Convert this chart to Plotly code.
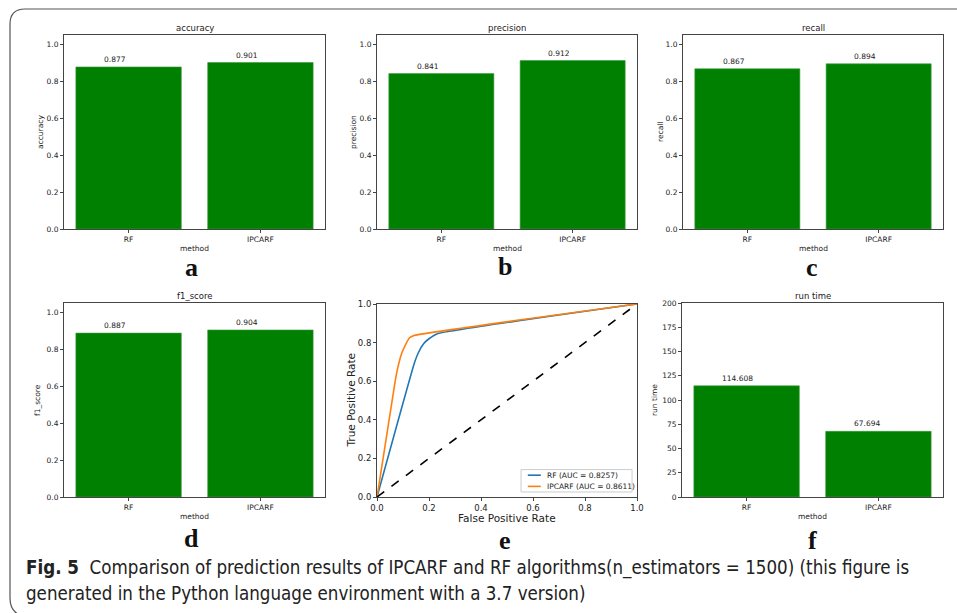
import plotly.graph_objects as go

# ---------------- data ----------------
methods = ["RF", "IPCARF"]
accuracy = [0.877, 0.901]
precision = [0.841, 0.912]
recall = [0.867, 0.894]
f1_score = [0.887, 0.904]
run_time = [114.608, 67.694]

rf_fpr = [0.0, 0.145, 0.16, 0.18, 0.20, 0.23, 1.0]
rf_tpr = [0.0, 0.70, 0.75, 0.795, 0.82, 0.845, 1.0]
ip_fpr = [0.0, 0.02, 0.07, 0.08, 0.095, 0.11, 0.125, 0.14, 1.0]
ip_tpr = [0.0, 0.17, 0.60, 0.67, 0.745, 0.79, 0.825, 0.836, 1.0]
diag = [0.0, 1.0]
rf_auc = "0.8257"
ip_auc = "0.8611"

caption_bold = "Fig. 5"
caption_1 = "Comparison of prediction results of IPCARF and RF algorithms(n_estimators = 1500) (this figure is"
caption_2 = "generated in the Python language environment with a 3.7 version)"

W, H = 957, 613
GREEN = "#008000"
TXT = "#222222"
AX = "#444444"
BLUE = "#1f77b4"
ORANGE = "#ff7f0e"
FONT = "DejaVu Sans"
TICK = 7.5

# pixel boxes: (x0, x1, y0_top, y1_bottom)
boxes = {
    1: (64, 325, 35, 229),
    2: (377, 637, 35, 229),
    3: (683, 943, 35, 229),
    4: (64, 325, 303, 497),
    5: (377, 637, 304, 497),
    6: (682, 943, 303, 497),
}
ytitle_x = {1: 40, 2: 353, 3: 660, 4: 37, 5: 351, 6: 654}

fig = go.Figure()


def dom(i):
    x0, x1, y0, y1 = boxes[i]
    return [x0 / W, x1 / W], [1 - y1 / H, 1 - y0 / H]


def px(x):
    return x / W


def py(y):
    return 1 - y / H


bar_panels = [
    (1, "accuracy", accuracy, [0, 1.05], [0, 0.2, 0.4, 0.6, 0.8, 1.0]),
    (2, "precision", precision, [0, 1.05], [0, 0.2, 0.4, 0.6, 0.8, 1.0]),
    (3, "recall", recall, [0, 1.05], [0, 0.2, 0.4, 0.6, 0.8, 1.0]),
    (4, "f1_score", f1_score, [0, 1.05], [0, 0.2, 0.4, 0.6, 0.8, 1.0]),
    (6, "run time", run_time, [0, 200], [0, 25, 50, 75, 100, 125, 150, 175, 200]),
]

annotations = []
layout_axes = {}

axis_common = dict(
    showline=True, mirror=True, linecolor=AX, linewidth=1,
    ticks="outside", ticklen=3, tickcolor=AX, showgrid=False, zeroline=False,
    automargin=False, fixedrange=True,
)

for i, name, vals, yr, ytv in bar_panels:
    xa = "x" if i == 1 else f"x{i}"
    ya = "y" if i == 1 else f"y{i}"
    fig.add_trace(go.Bar(
        x=list(range(len(methods))), y=vals, width=0.8,
        marker=dict(color=GREEN, line=dict(color="#3a9a3a", width=0.6)),
        xaxis=xa, yaxis=ya, showlegend=False,
    ))
    xd, yd = dom(i)
    xkey = "xaxis" if i == 1 else f"xaxis{i}"
    ykey = "yaxis" if i == 1 else f"yaxis{i}"
    is_frac = yr[1] < 2
    layout_axes[xkey] = dict(
        domain=xd, anchor=ya, range=[-0.49, 1.49],
        tickvals=[0, 1], ticktext=methods,
        tickfont=dict(size=TICK, color=TXT, family=FONT), **axis_common,
    )
    layout_axes[ykey] = dict(
        domain=yd, anchor=xa, range=yr, tickvals=ytv,
        tickformat=".1f" if is_frac else "d",
        tickfont=dict(size=TICK, color=TXT, family=FONT), **axis_common,
    )
    # value labels
    for k, v in enumerate(vals):
        annotations.append(dict(
            x=k - 0.2, y=v, xref=xa, yref=ya, text=str(v), showarrow=False,
            xanchor="left", yanchor="bottom", yshift=1,
            font=dict(size=TICK, color=TXT, family=FONT),
        ))
    x0, x1, y0, y1 = boxes[i]
    # title
    annotations.append(dict(
        x=px((x0 + x1) / 2), y=py(y0), xref="paper", yref="paper",
        text=name, showarrow=False, xanchor="center", yanchor="bottom", yshift=0,
        font=dict(size=8.5, color=TXT, family=FONT),
    ))
    # x axis title
    annotations.append(dict(
        x=px((x0 + x1) / 2), y=py(y1 + 19), xref="paper", yref="paper",
        text="method", showarrow=False, xanchor="center", yanchor="middle",
        font=dict(size=TICK, color=TXT, family=FONT),
    ))
    # y axis title
    annotations.append(dict(
        x=px(ytitle_x[i]), y=py((y0 + y1) / 2), xref="paper", yref="paper",
        text=name, showarrow=False, xanchor="center", yanchor="middle", textangle=-90,
        font=dict(size=TICK, color=TXT, family=FONT),
    ))

# ROC panel
fig.add_trace(go.Scatter(x=rf_fpr, y=rf_tpr, mode="lines",
                         line=dict(color=BLUE, width=1.6, shape="spline", smoothing=0.4),
                         name=f"RF (AUC = {rf_auc})", xaxis="x5", yaxis="y5", showlegend=False))
fig.add_trace(go.Scatter(x=ip_fpr, y=ip_tpr, mode="lines",
                         line=dict(color=ORANGE, width=1.6, shape="spline", smoothing=0.4),
                         name=f"IPCARF (AUC = {ip_auc})", xaxis="x5", yaxis="y5", showlegend=False))
fig.add_trace(go.Scatter(x=diag, y=diag, mode="lines", line=dict(color="black", width=1.6, dash="dash"),
                         showlegend=False, xaxis="x5", yaxis="y5"))
xd, yd = dom(5)
roc_ticks = [0, 0.2, 0.4, 0.6, 0.8, 1.0]
layout_axes["xaxis5"] = dict(
    domain=xd, anchor="y5", range=[0, 1], tickvals=roc_ticks, tickformat=".1f",
    tickfont=dict(size=8.5, color=TXT, family=FONT), **axis_common,
)
layout_axes["yaxis5"] = dict(
    domain=yd, anchor="x5", range=[0, 1], tickvals=roc_ticks, tickformat=".1f",
    tickfont=dict(size=8.5, color=TXT, family=FONT), **axis_common,
)
x0, x1, y0, y1 = boxes[5]
annotations.append(dict(
    x=px((x0 + x1) / 2), y=py(518), xref="paper", yref="paper",
    text="False Positive Rate", showarrow=False, xanchor="center", yanchor="middle",
    font=dict(size=10.5, color=TXT, family=FONT),
))
annotations.append(dict(
    x=px(ytitle_x[5]), y=py((y0 + y1) / 2), xref="paper", yref="paper",
    text="True Positive Rate", showarrow=False, xanchor="center", yanchor="middle", textangle=-90,
    font=dict(size=10.5, color=TXT, family=FONT),
))

# custom legend (inside ROC axes)
shapes = []
shapes.append(dict(type="rect", xref="x5", yref="y5", x0=0.554, x1=0.981, y0=0.026, y1=0.142,
                   line=dict(color="#cccccc", width=1), fillcolor="white", layer="above"))
legend_items = [(f"RF (AUC = {rf_auc})", BLUE, 0.113), (f"IPCARF (AUC = {ip_auc})", ORANGE, 0.055)]
for label, col, yy in legend_items:
    shapes.append(dict(type="line", xref="x5", yref="y5", x0=0.58, x1=0.63, y0=yy, y1=yy,
                       line=dict(color=col, width=1.6), layer="above"))
    annotations.append(dict(
        x=0.645, y=yy, xref="x5", yref="y5", text=label, showarrow=False,
        xanchor="left", yanchor="middle", font=dict(size=7.5, color=TXT, family=FONT),
    ))

# panel letters
letter_pos = {1: ("a", 191, 267), 2: ("b", 505, 266), 3: ("c", 812, 268),
              4: ("d", 191, 538), 5: ("e", 505, 540), 6: ("f", 812, 540)}
for i, (lt, lx, ly) in letter_pos.items():
    annotations.append(dict(
        x=px(lx), y=py(ly), xref="paper", yref="paper", text=f"<b>{lt}</b>",
        showarrow=False, xanchor="center", yanchor="middle",
        font=dict(size=26, color="#111111", family="Liberation Serif"),
    ))

# caption
cap_font = "Liberation Sans Narrow, DejaVu Sans Condensed, Open Sans"
annotations.append(dict(
    x=px(24), y=py(568), xref="paper", yref="paper",
    text=f"<b>{caption_bold}</b>  {caption_1}", showarrow=False,
    xanchor="left", yanchor="middle", font=dict(size=18.6, color="#222222", family=cap_font),
))
annotations.append(dict(
    x=px(24), y=py(593), xref="paper", yref="paper",
    text=caption_2, showarrow=False,
    xanchor="left", yanchor="middle", font=dict(size=18.6, color="#222222", family=cap_font),
))

# frame
shapes.append(dict(
    type="path", xref="paper", yref="paper", xsizemode="pixel", ysizemode="pixel",
    xanchor=0, yanchor=1,
    path="M 22,-616 Q 10,-612 10,-598 L 10,-24 Q 10,-9 25,-9 L 970,-9",
    line=dict(color="#555555", width=1.2),
))

fig.update_layout(
    width=W, height=H, margin=dict(l=0, r=0, t=0, b=0, autoexpand=False),
    paper_bgcolor="white", plot_bgcolor="white",
    annotations=annotations, shapes=shapes,
    showlegend=False,
    bargap=0.2,
    **layout_axes,
)

fig.write_html(
    "out.html",
    config={"displayModeBar": False},
    post_script="document.body.style.margin='0';document.body.style.padding='0';"
                "document.documentElement.style.overflow='hidden';",
)
